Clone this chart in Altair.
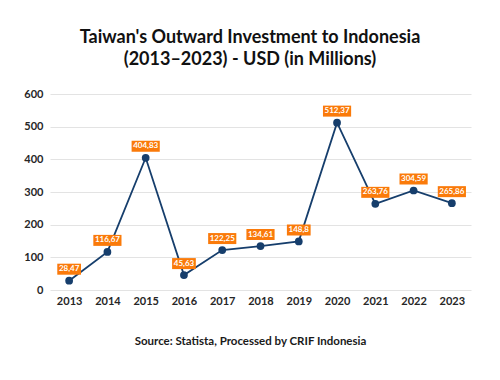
import altair as alt
import pandas as pd

years = [2013, 2014, 2015, 2016, 2017, 2018, 2019, 2020, 2021, 2022, 2023]
values = [28.47, 116.67, 404.83, 45.63, 122.25, 134.61, 148.8, 512.37, 263.76, 304.59, 265.86]
labels = ["28,47", "116,67", "404,83", "45,63", "122,25", "134,61", "148,8", "512,37", "263,76", "304,59", "265,86"]
y_ticks = [0, 100, 200, 300, 400, 500, 600]

df = pd.DataFrame({"year": years, "value": values, "label": labels})

FONT = "Lato"
NAVY = "#163e6c"
ORANGE = "#fa7a0a"

x_scale = alt.Scale(domain=[2012.5, 2023.5], nice=False, zero=False)
x_axis = alt.Axis(values=years, format="d", grid=False, ticks=False, domain=False,
                  labelOverlap=False,
                  labelFont=FONT, labelFontSize=11, labelFontWeight="bold",
                  labelColor="#262626", labelPadding=5,
                  title="Source: Statista, Processed by CRIF Indonesia",
                  titleFont=FONT, titleFontSize=11.5, titleFontWeight="bold",
                  titleColor="#1a1a1a", titleX=200, titleY=51,
                  titleBaseline="middle", titleAlign="center")
y = alt.Y("value:Q", scale=alt.Scale(domain=[0, 600], nice=False),
          axis=alt.Axis(values=y_ticks, ticks=False, domain=False, grid=True,
                        labelOverlap=False,
                        gridColor="#e3e3e3", gridWidth=1,
                        labelFont=FONT, labelFontSize=11, labelFontWeight="bold",
                        labelColor="#262626", labelPadding=7, title=None))

base = alt.Chart(df).encode(x=alt.X("year:Q", scale=x_scale, axis=x_axis), y=y)

line = base.mark_line(color=NAVY, strokeWidth=1.8)
points = base.mark_circle(color=NAVY, size=60, opacity=1)

boxes = base.transform_calculate(
    x1="datum.year - length(datum.label) * 0.058 - 0.02",
    x2="datum.year + length(datum.label) * 0.058 + 0.02",
).mark_rect(color=ORANGE, yOffset=-17, y2Offset=-6).encode(
    x=alt.X("x1:Q", scale=x_scale, axis=x_axis), x2="x2:Q", y2="value:Q"
)
texts = base.mark_text(color="white", font=FONT, fontSize=8, fontWeight="bold",
                       baseline="middle", dy=-11.5).encode(text="label:N")

chart = alt.layer(line, points, boxes, texts).properties(
    width=421, height=196,
    title=alt.TitleParams(
        text=["Taiwan's Outward Investment to Indonesia", "(2013\u20132023) - USD (in Millions)"],
        font=FONT, fontSize=18, fontWeight="bold", color="#111111",
        lineHeight=22, anchor="middle", dx=-10.5, offset=19,
    ),
    autosize=alt.AutoSizeParams(type="none"),
    padding={"left": 42, "top": 86, "right": 21, "bottom": 82},
).configure_view(stroke=None)

chart.save("out.html", embed_options={"renderer": "svg", "actions": False})
